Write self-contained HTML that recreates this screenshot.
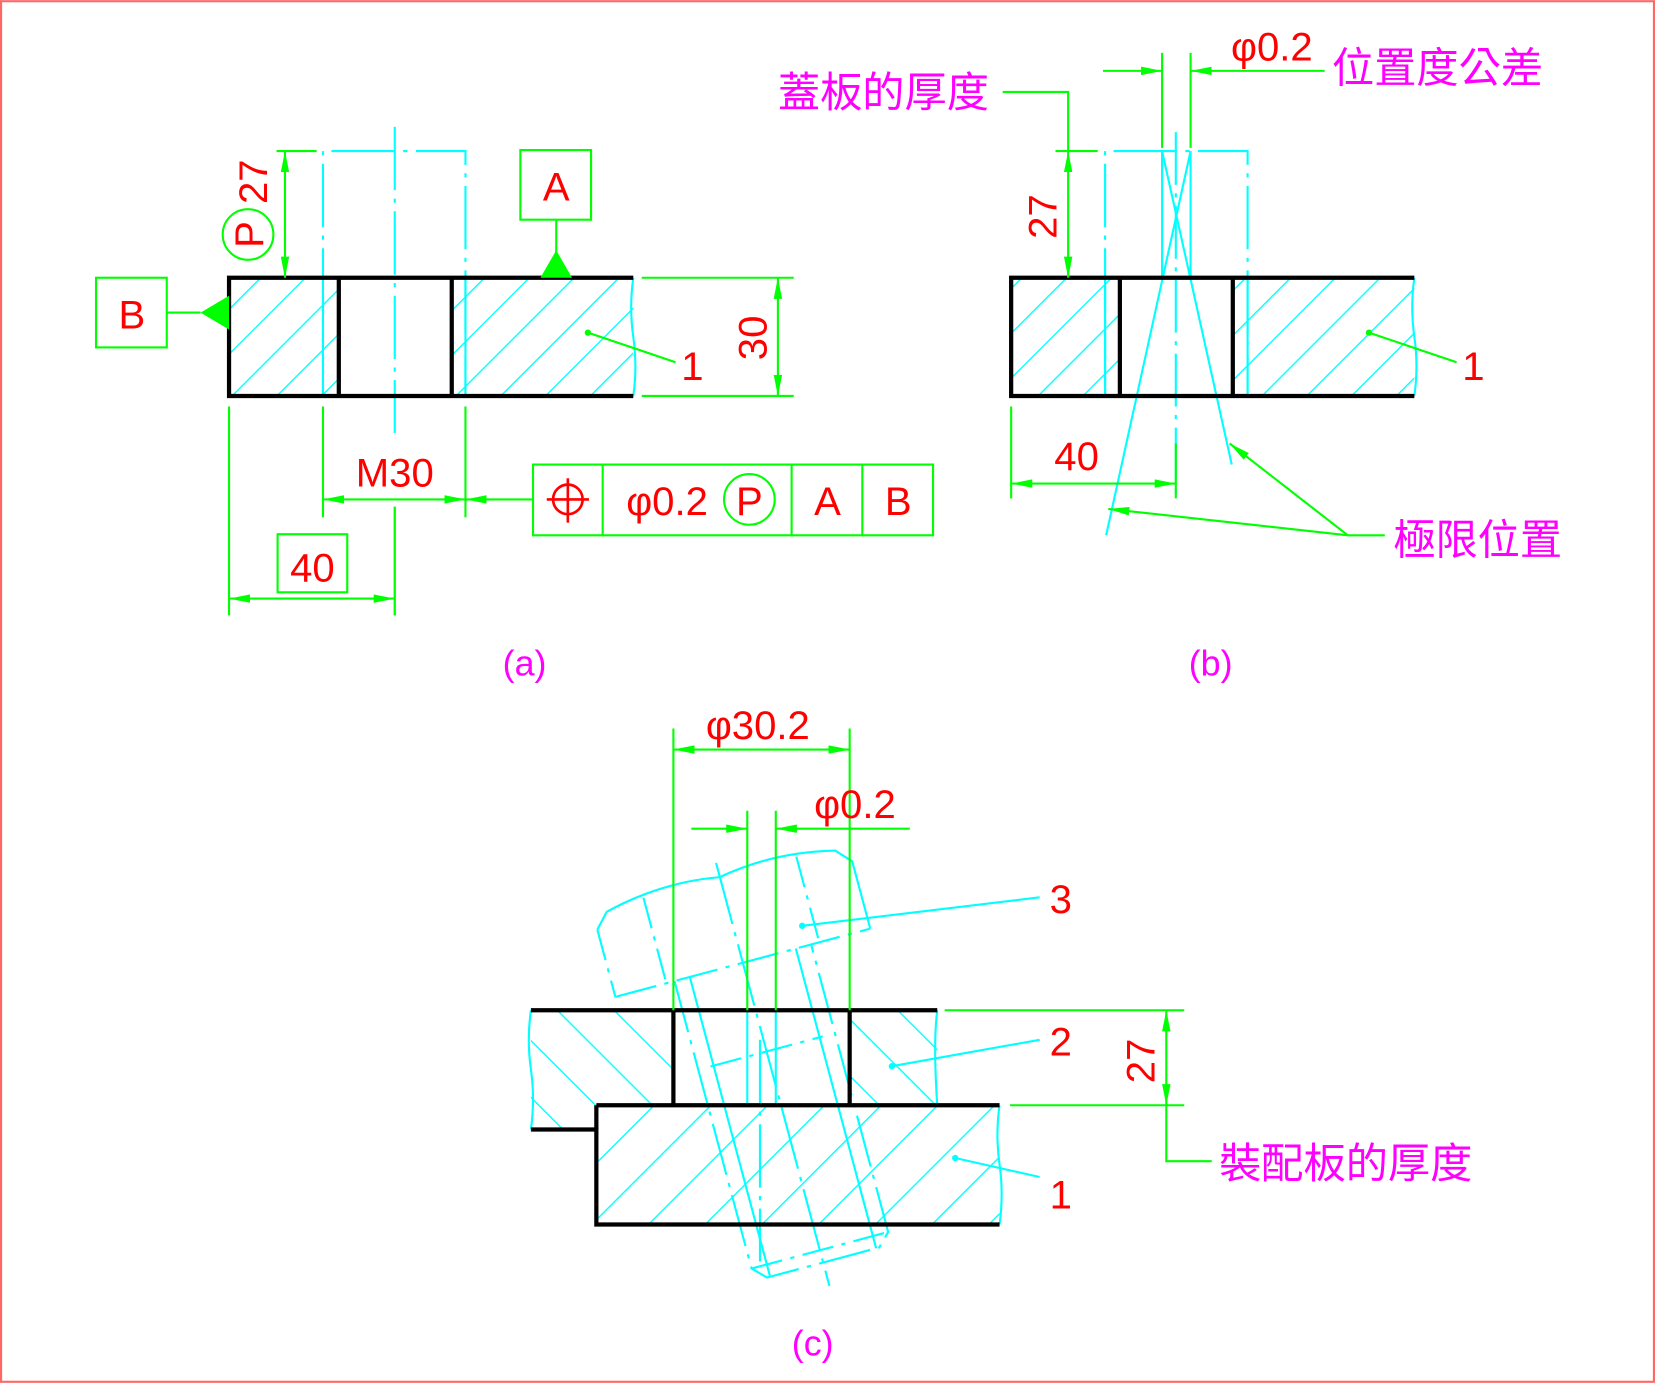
<!DOCTYPE html>
<html><head><meta charset="utf-8"><style>html,body{margin:0;padding:0;background:#fff}svg{display:block}</style></head>
<body>
<svg width="1655" height="1383" viewBox="0 0 1568 1310" xmlns="http://www.w3.org/2000/svg" font-family="Liberation Sans, Noto Sans CJK TC, sans-serif">
<defs>
<pattern id="h1" patternUnits="userSpaceOnUse" width="30" height="30" patternTransform="rotate(45)"><line x1="0" y1="0" x2="0" y2="30" stroke="#0ff" stroke-width="2.6"/></pattern>
<pattern id="h3" patternUnits="userSpaceOnUse" width="38" height="38" patternTransform="rotate(45)"><line x1="0" y1="0" x2="0" y2="38" stroke="#0ff" stroke-width="2.6"/></pattern>
<pattern id="h2" patternUnits="userSpaceOnUse" width="38" height="38" patternTransform="rotate(-45)"><line x1="0" y1="0" x2="0" y2="38" stroke="#0ff" stroke-width="2.6"/></pattern>
<marker id="ar" viewBox="0 0 20 8" refX="20" refY="4" markerWidth="20" markerHeight="8" markerUnits="userSpaceOnUse" orient="auto-start-reverse"><path d="M0,0 L20,4 L0,8 z" fill="#0f0"/></marker>
</defs>
<rect x="1" y="1" width="1566" height="1308" fill="none" stroke="#f66" stroke-width="2"/>

<!-- ===== (a) ===== -->
<rect x="217" y="263" width="104" height="112" fill="url(#h1)"/>
<rect x="428" y="263" width="172" height="112" fill="url(#h1)"/>
<g stroke="#0ff" stroke-width="2" fill="none">
<path d="M306,375 V143 H441 V375" stroke-dasharray="60,8,4,8"/>
<line x1="306" y1="263" x2="306" y2="375"/><line x1="441" y1="263" x2="441" y2="375"/>
<line x1="374" y1="120" x2="374" y2="410" stroke-dasharray="60,8,4,8"/>
<line x1="374" y1="480" x2="374" y2="583"/>
<path d="M600,263 q-4,28 0,56 q4,28 0,56"/>
</g>
<g stroke="#000" stroke-width="4" fill="none">
<path d="M600,263 H217 V375 H600"/><line x1="321" y1="263" x2="321" y2="375"/><line x1="428" y1="263" x2="428" y2="375"/>
</g>
<g stroke="#0f0" stroke-width="2" fill="none">
<line x1="262" y1="143" x2="300" y2="143"/>
<line x1="270" y1="143" x2="270" y2="263" marker-start="url(#ar)" marker-end="url(#ar)"/>
<circle cx="235" cy="222" r="24"/>
<rect x="493" y="142" width="67" height="66"/><line x1="527" y1="208" x2="527" y2="240"/>
<rect x="91" y="263" width="67" height="66"/><line x1="158" y1="296" x2="190" y2="296"/>
<line x1="557" y1="315" x2="640" y2="343"/>
<line x1="608" y1="263" x2="752" y2="263"/><line x1="608" y1="375" x2="752" y2="375"/>
<line x1="737" y1="263" x2="737" y2="375" marker-start="url(#ar)" marker-end="url(#ar)"/>
<line x1="217" y1="385" x2="217" y2="583"/><line x1="374" y1="480" x2="374" y2="583"/>
<line x1="217" y1="567" x2="374" y2="567" marker-start="url(#ar)" marker-end="url(#ar)"/>
<rect x="263" y="506" width="66" height="55"/>
<line x1="306" y1="385" x2="306" y2="490"/><line x1="441" y1="385" x2="441" y2="490"/>
<line x1="306" y1="473" x2="441" y2="473" marker-start="url(#ar)" marker-end="url(#ar)"/>
<line x1="505" y1="473" x2="441" y2="473" marker-end="url(#ar)"/>
<rect x="505" y="440" width="379" height="67"/>
<line x1="571" y1="440" x2="571" y2="507"/><line x1="750" y1="440" x2="750" y2="507"/><line x1="817" y1="440" x2="817" y2="507"/>
<circle cx="710" cy="473" r="24"/>
</g>
<circle cx="557" cy="315" r="3" fill="#0f0"/>
<path d="M512,263 L527,237 L542,263 z M217,280 L190,296 L217,312 z" fill="#0f0"/>
<g stroke="#f00" stroke-width="2.5" fill="none"><circle cx="538" cy="473" r="14"/><line x1="518" y1="473" x2="558" y2="473"/><line x1="538" y1="453" x2="538" y2="495"/></g>
<g fill="#f00" font-size="38" text-anchor="middle">
<text x="527" y="190">A</text><text x="125" y="311">B</text>
<text transform="translate(253,172) rotate(-90)">27</text>
<text transform="translate(249,222) rotate(-90)">P</text>
<text x="656" y="360">1</text>
<text transform="translate(726,320) rotate(-90)">30</text>
<text x="296" y="551">40</text>
<text x="374" y="461">M30</text>
<text x="632" y="488">φ0.2</text>
<text x="710" y="488">P</text>
<text x="784" y="488">A</text><text x="851" y="488">B</text>
</g>
<text x="497" y="640" fill="#f0f" font-size="34" text-anchor="middle">(a)</text>

<!-- ===== (b) ===== -->
<rect x="958" y="263" width="103" height="112" fill="url(#h1)"/>
<rect x="1168" y="263" width="172" height="112" fill="url(#h1)"/>
<g stroke="#0ff" stroke-width="2" fill="none">
<path d="M1047,375 V143 H1182 V375" stroke-dasharray="60,8,4,8"/>
<line x1="1047" y1="263" x2="1047" y2="375"/><line x1="1182" y1="263" x2="1182" y2="375"/>
<line x1="1101" y1="143" x2="1101" y2="263"/><line x1="1128" y1="143" x2="1128" y2="263"/>
<line x1="1114" y1="125" x2="1114" y2="470" stroke-dasharray="50,8,4,8"/>
<line x1="1101" y1="143" x2="1167" y2="440"/><line x1="1128" y1="143" x2="1048" y2="507"/>
<path d="M1340,263 q-4,28 0,56 q4,28 0,56"/>
</g>
<g stroke="#000" stroke-width="4" fill="none">
<path d="M1340,263 H958 V375 H1340"/><line x1="1061" y1="263" x2="1061" y2="375"/><line x1="1168" y1="263" x2="1168" y2="375"/>
</g>
<g stroke="#0f0" stroke-width="2" fill="none">
<line x1="1101" y1="50" x2="1101" y2="140"/><line x1="1128" y1="50" x2="1128" y2="140"/>
<line x1="1045" y1="67" x2="1101" y2="67" marker-end="url(#ar)"/>
<line x1="1255" y1="67" x2="1128" y2="67" marker-end="url(#ar)"/>
<path d="M950,87 H1012 V143"/>
<line x1="1000" y1="143" x2="1040" y2="143"/>
<line x1="1012" y1="143" x2="1012" y2="263" marker-start="url(#ar)" marker-end="url(#ar)"/>
<line x1="958" y1="385" x2="958" y2="472"/><line x1="1114" y1="420" x2="1114" y2="472"/>
<line x1="958" y1="458" x2="1114" y2="458" marker-start="url(#ar)" marker-end="url(#ar)"/>
<line x1="1297" y1="315" x2="1380" y2="343"/>
<line x1="1312" y1="507" x2="1277" y2="507"/>
<line x1="1277" y1="507" x2="1050" y2="482" marker-end="url(#ar)"/>
<line x1="1277" y1="507" x2="1165" y2="420" marker-end="url(#ar)"/>
</g>
<circle cx="1297" cy="315" r="3" fill="#0f0"/>
<g fill="#f00" font-size="38" text-anchor="middle">
<text x="1205" y="57">φ0.2</text>
<text transform="translate(1001,205) rotate(-90)">27</text>
<text x="1020" y="445">40</text>
<text x="1396" y="360">1</text>
</g>
<g fill="#f0f" font-size="40">
<text x="1262" y="78">位置度公差</text>
<text x="737" y="101">蓋板的厚度</text>
<text x="1320" y="525">極限位置</text>
</g>
<text x="1147" y="640" fill="#f0f" font-size="34" text-anchor="middle">(b)</text>

<!-- ===== (c) ===== -->
<polygon points="503,957 638,957 638,1047 565,1047 565,1070 503,1070" fill="url(#h2)"/>
<rect x="805" y="957" width="83" height="90" fill="url(#h2)"/>
<rect x="565" y="1047" width="382" height="113" fill="url(#h3)"/>
<rect x="639" y="958" width="165" height="88" fill="#fff"/>
<!-- bolt -->
<g transform="translate(681,827) rotate(-15)" stroke="#0ff" stroke-width="2" fill="none">
<path d="M-125,22 L-112,8 Q-55,-6 0,4 Q55,-6 112,8 L125,22 V88"/>
<line x1="-125" y1="22" x2="-125" y2="88" stroke-dasharray="30,8,4,8"/>
<path d="M-75,4 V88 M75,4 V88" stroke-dasharray="30,8,4,8"/>
<line x1="-125" y1="88" x2="125" y2="88" stroke-dasharray="40,8,4,8"/>
<path d="M-67,88 V370 L-55,382 H55 L67,370 V88" stroke-dasharray="50,8,4,8"/>
<path d="M-52,88 V382 M52,88 V382"/>
<line x1="-67" y1="370" x2="67" y2="370" stroke-dasharray="30,8,4,8"/>
<line x1="-55" y1="175" x2="55" y2="175" stroke-dasharray="30,8,4,8"/>
<line x1="0" y1="-10" x2="0" y2="405" stroke-dasharray="60,8,4,8"/>
</g>
<g stroke="#0ff" stroke-width="2" fill="none">
<line x1="708" y1="957" x2="708" y2="1047"/><line x1="735" y1="957" x2="735" y2="1047"/>
<line x1="720" y1="985" x2="720" y2="1195" stroke-dasharray="60,8,4,8"/>
<path d="M503,957 q-4,28 0,56 q4,28 0,57"/>
<path d="M888,957 q-4,30 0,90"/>
<path d="M947,1047 q-4,28 0,56 q4,28 0,57"/>
<line x1="760" y1="877" x2="985" y2="850"/><line x1="845" y1="1010" x2="985" y2="985"/><line x1="905" y1="1097" x2="985" y2="1115"/>
</g>
<g stroke="#000" stroke-width="4" fill="none">
<line x1="503" y1="957" x2="888" y2="957"/>
<line x1="565" y1="1047" x2="947" y2="1047"/>
<path d="M503,1070 H565 V1160 H947"/><line x1="565" y1="1047" x2="565" y2="1070"/>
<line x1="638" y1="957" x2="638" y2="1047"/><line x1="805" y1="957" x2="805" y2="1047"/>
</g>
<g stroke="#0f0" stroke-width="2" fill="none">
<line x1="638" y1="690" x2="638" y2="957"/><line x1="805" y1="690" x2="805" y2="957"/>
<line x1="638" y1="710" x2="805" y2="710" marker-start="url(#ar)" marker-end="url(#ar)"/>
<line x1="708" y1="768" x2="708" y2="957"/><line x1="735" y1="768" x2="735" y2="957"/>
<line x1="655" y1="785" x2="708" y2="785" marker-end="url(#ar)"/>
<line x1="862" y1="785" x2="735" y2="785" marker-end="url(#ar)"/>
<line x1="895" y1="957" x2="1122" y2="957"/><line x1="957" y1="1047" x2="1122" y2="1047"/>
<line x1="1105" y1="957" x2="1105" y2="1047" marker-start="url(#ar)" marker-end="url(#ar)"/>
<path d="M1105,1047 V1100 H1148"/>
</g>
<g fill="#0ff"><circle cx="760" cy="877" r="3"/><circle cx="845" cy="1010" r="3"/><circle cx="905" cy="1097" r="3"/></g>
<g fill="#f00" font-size="38" text-anchor="middle">
<text x="718" y="700">φ30.2</text>
<text x="810" y="775">φ0.2</text>
<text x="1005" y="865">3</text><text x="1005" y="1000">2</text><text x="1005" y="1145">1</text>
<text transform="translate(1094,1005) rotate(-90)">27</text>
</g>
<text x="1155" y="1116" fill="#f0f" font-size="40">裝配板的厚度</text>
<text x="770" y="1284" fill="#f0f" font-size="34" text-anchor="middle">(c)</text>
</svg>
</body></html>
